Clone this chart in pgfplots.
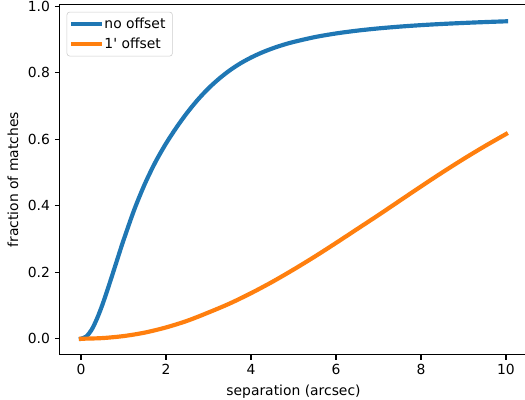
\documentclass[border=0pt]{standalone}
\usepackage{fontspec}
\setmainfont{DejaVu Sans}[Ligatures=TeXOff]
\usepackage{pgfplots}
\pgfplotsset{compat=1.18}

\definecolor{tabblue}{HTML}{1F77B4}
\definecolor{taborange}{HTML}{FF7F0E}

\begin{document}
\begin{tikzpicture}
\begin{axis}[
  scale only axis,
  width=336.6pt, height=251.9pt,
  xmin=-0.5, xmax=10.5,
  ymin=-0.048, ymax=1.004,
  xtick={0,2,4,6,8,10},
  ytick={0,0.2,0.4,0.6,0.8,1.0},
  yticklabel style={/pgf/number format/.cd, fixed, fixed zerofill, precision=1},
  /pgf/number format/assume math mode=true,
  tick align=outside,
  tick pos=left,
  major tick length=3.5pt,
  every tick/.style={black, line width=0.8pt},
  axis line style={line width=0.8pt},
  ticklabel style={font=\fontsize{10}{12}\selectfont},
  label style={font=\fontsize{10}{12}\selectfont},
  xlabel={separation (arcsec)},
  ylabel={fraction of matches},
  legend cell align=left,
  legend style={at={(0,1)}, anchor=north west, xshift=5pt, yshift=-5pt,
    draw=black!20, rounded corners=2pt, inner xsep=3pt, inner ysep=2pt,
    row sep=1.5pt, font=\fontsize{10}{12}\selectfont},
  legend image code/.code={\draw[#1] (0pt,0pt) -- (19pt,0pt);},
]
\coordinate (sw) at (rel axis cs:0,0);
% matches without offset
\addplot[tabblue, line width=3pt, line cap=rect, smooth] coordinates {
  (0,0) (0.125,0.007) (0.25,0.027) (0.375,0.060) (0.5,0.101) (0.625,0.148)
  (0.75,0.197) (0.875,0.247) (1.0,0.296) (1.25,0.387) (1.5,0.465)
  (1.75,0.531) (2.0,0.587) (2.25,0.636) (2.5,0.680) (2.75,0.719)
  (3.0,0.753) (3.25,0.782) (3.5,0.807) (3.75,0.828) (4.0,0.8455)
  (4.25,0.8603) (4.5,0.8728) (4.75,0.8834) (5.0,0.8924) (5.5,0.907)
  (6.0,0.918) (6.5,0.9265) (7.0,0.9332) (7.5,0.9386) (8.0,0.943)
  (8.5,0.9466) (9.0,0.9496) (9.5,0.9522) (10,0.9545)
};
\addlegendentry{no offset}
% matches with 1 arcmin offset
\addplot[taborange, line width=3pt, line cap=rect, smooth] coordinates {
  (0,0) (0.5,0.002) (1,0.008) (1.5,0.0185) (2,0.034) (2.5,0.054)
  (3,0.079) (3.5,0.106) (4,0.137) (4.5,0.171) (5,0.208) (5.5,0.247)
  (6,0.288) (6.5,0.330) (7,0.372) (7.5,0.415) (8,0.458) (8.5,0.500)
  (9,0.5405) (9.5,0.579) (10,0.6155)
};
\addlegendentry{1' offset}
\end{axis}
\pgfresetboundingbox
\path[use as bounding box] ([shift={(-43.02pt,-32.6pt)}]sw) rectangle ++(378pt,288pt);
\end{tikzpicture}
\end{document}
